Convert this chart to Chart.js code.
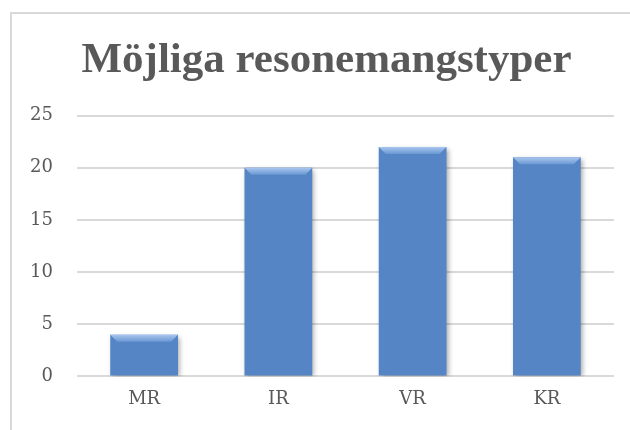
<!DOCTYPE html>
<html><head><meta charset="utf-8">
<script src="https://cdn.jsdelivr.net/npm/chart.js@4/dist/chart.umd.min.js"></script>
<style>
html,body{margin:0;padding:0;background:#fff;}
#frame{position:absolute;left:10px;top:12px;width:640px;height:440px;border:2px solid #d9d9d9;box-sizing:border-box;}
#wrap{position:absolute;left:0;top:0;width:630px;height:430px;}
</style></head>
<body>
<div id="frame"></div>
<div id="wrap"><canvas id="c" width="630" height="430"></canvas></div>
<script>
const categories = ["MR", "IR", "VR", "KR"];
const values = [4, 20, 22, 21];
const yTicks = [0, 5, 10, 15, 20, 25];
const title = "Möjliga resonemangstyper";

function barGradient(ctx) {
  const el = ctx.element;
  const c = ctx.chart.ctx;
  if (!el || el.x === undefined || !el.width) return '#5585c5';
  const x0 = el.x - el.width / 2, x1 = el.x + el.width / 2;
  const g = c.createLinearGradient(x0, 0, x1, 0);
  g.addColorStop(0, '#3a6aa8');
  g.addColorStop(0.07, '#5586c6');
  g.addColorStop(0.5, '#6492d1');
  g.addColorStop(0.93, '#5586c6');
  g.addColorStop(1, '#365f98');
  return g;
}

const titleShift = {
  id: 'titleShift',
  afterLayout(chart) {
    const t = chart.titleBlock;
    if (t) { t.left += 32; t.width -= 32; }
  }
};

const shadowPlugin = {
  id: 'shadow',
  beforeDatasetDraw(chart) {
    const c = chart.ctx; c.save();
    c.shadowColor = 'rgba(0,0,0,0.35)'; c.shadowBlur = 5; c.shadowOffsetX = 2; c.shadowOffsetY = 2;
  },
  afterDatasetDraw(chart) {
    const c = chart.ctx; c.restore();
    const meta = chart.getDatasetMeta(0);
    c.save();
    meta.data.forEach(b => {
      const x0 = b.x - b.width / 2, x1 = b.x + b.width / 2, y = b.y, bev = 7;
      const g = c.createLinearGradient(0, y, 0, y + bev);
      g.addColorStop(0, '#a9c6ee'); g.addColorStop(1, '#6b98d4');
      c.fillStyle = g;
      c.beginPath(); c.moveTo(x0, y); c.lineTo(x1, y); c.lineTo(x1 - bev, y + bev); c.lineTo(x0 + bev, y + bev); c.closePath(); c.fill();
    });
    c.restore();
  }
};

new Chart(document.getElementById('c'), {
  type: 'bar',
  data: { labels: categories, datasets: [{ data: values, backgroundColor: barGradient, borderWidth: 0, categoryPercentage: 1.0, barPercentage: 0.505 }] },
  options: {
    responsive: false, animation: false, devicePixelRatio: 1,
    layout: { padding: { left: 7, right: 16, top: 14, bottom: 8 } },
    plugins: {
      legend: { display: false }, tooltip: { enabled: false },
      title: { display: true, text: title, color: '#595959', font: { family: 'Liberation Serif', size: 43, weight: 'bold' }, padding: { top: 21, bottom: 29 } }
    },
    scales: {
      x: { grid: { display: false, drawTicks: false }, border: { display: false },
           ticks: { color: '#595959', font: { family: 'DejaVu Serif', size: 18 }, padding: 12 } },
      y: { min: 0, max: 25, afterBuildTicks: ax => { ax.ticks = yTicks.map(v => ({ value: v })); },
           afterFit: ax => { ax.width = 70; },
           grid: { color: '#d9d9d9', lineWidth: 2, drawTicks: false }, border: { display: false },
           ticks: { color: '#595959', font: { family: 'DejaVu Serif', size: 18 }, padding: 24 } }
    }
  },
  plugins: [titleShift, shadowPlugin]
});
</script>
</body></html>
